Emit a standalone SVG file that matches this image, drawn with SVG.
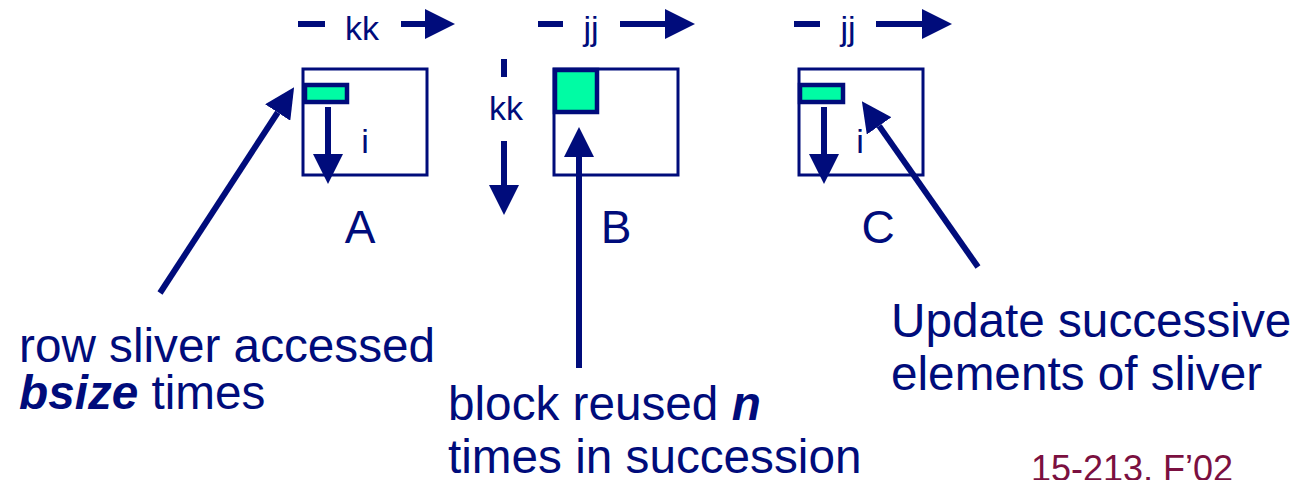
<svg xmlns="http://www.w3.org/2000/svg" width="1315" height="480" viewBox="0 0 1315 480">
<style>
.t{font-family:"Liberation Sans",Arial,sans-serif;fill:#000C7B}
.sm{font-size:34px;text-anchor:middle}
.lbl{font-size:46px;text-anchor:middle}
.big{font-size:47.7px}
.box{fill:#fff;stroke:#000C7B;stroke-width:3}
.sl{fill:#00FCA4;stroke:#000C7B;stroke-width:4.5}
.ln{stroke:#000C7B;stroke-width:6;fill:none}
.ar{stroke:#000C7B;stroke-width:6;fill:none;marker-end:url(#head)}
</style>
<defs>
<marker id="head" markerUnits="userSpaceOnUse" markerWidth="30" markerHeight="30" viewBox="0 0 28 28" refX="0" refY="14" orient="auto">
<path d="M0,0 L28,14 L0,28 z" fill="#000C7B"/>
</marker>
</defs>
<g id="matrixA">
<rect class="box" x="303" y="69" width="124" height="106"/>
<rect class="sl" x="305" y="85" width="42" height="17"/>
<text class="t sm" x="362" y="40">kk</text>
<text class="t sm" x="365" y="153">i</text>
<text class="t lbl" x="360" y="243">A</text>
</g>
<g id="matrixB">
<rect class="box" x="554" y="69" width="124" height="106"/>
<rect class="sl" x="555" y="70" width="42" height="42"/>
<text class="t sm" x="591" y="40">jj</text>
<text class="t sm" x="506" y="120">kk</text>
<text class="t lbl" x="616" y="243">B</text>
</g>
<g id="matrixC">
<rect class="box" x="799" y="69" width="124" height="106"/>
<rect class="sl" x="800" y="85" width="43" height="17"/>
<text class="t sm" x="848" y="40">jj</text>
<text class="t sm" x="860" y="153">i</text>
<text class="t lbl" x="878" y="243">C</text>
</g>
<g id="labelA">
<text class="t big" x="19" y="362">row sliver accessed</text>
<text class="t big" x="19" y="409"><tspan font-weight="bold" font-style="italic">bsize</tspan> times</text>
</g>
<g id="labelB">
<text class="t big" x="448" y="420">block reused <tspan font-weight="bold" font-style="italic">n</tspan></text>
<text class="t big" x="448" y="473">times in succession</text>
</g>
<g id="labelC">
<text class="t big" x="891" y="337">Update successive</text>
<text class="t big" x="891" y="390">elements of sliver</text>
</g>
<g id="footer">
<text x="1031" y="481" style="font-family:'Liberation Sans',Arial,sans-serif;font-size:36px;fill:#7B1040">15-213, F’02</text>
</g>
<g id="connectors">
<line class="ln" x1="298" y1="24" x2="325" y2="24"/>
<line class="ar" x1="401" y1="24" x2="425" y2="24"/>
<line class="ln" x1="538" y1="24" x2="563" y2="24"/>
<line class="ar" x1="620" y1="24" x2="665" y2="24"/>
<line class="ln" x1="794" y1="24" x2="820" y2="24"/>
<line class="ar" x1="876" y1="24" x2="922" y2="24"/>
<line class="ln" x1="504" y1="59" x2="504" y2="77"/>
<line class="ar" x1="504" y1="141" x2="504" y2="185"/>
<line class="ar" x1="328" y1="107" x2="328" y2="154"/>
<line class="ar" x1="824" y1="107" x2="824" y2="154"/>
<line class="ar" x1="579" y1="368" x2="579" y2="157"/>
<line class="ar" x1="160" y1="293" x2="277.7" y2="112.5"/>
<line class="ar" x1="978" y1="267" x2="879.1" y2="125.9"/>
</g>
</svg>
